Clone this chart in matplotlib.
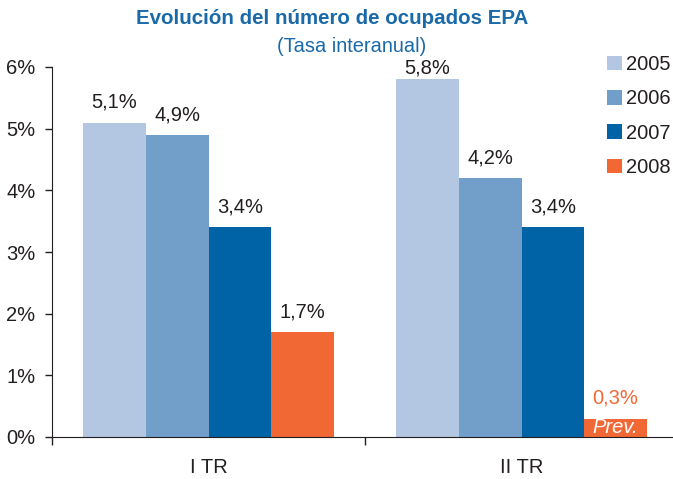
import matplotlib
matplotlib.use("Agg")
import matplotlib.pyplot as plt
import numpy as np
from matplotlib.patches import Patch

plt.rcParams['font.family'] = ['Liberation Sans', 'DejaVu Sans']

groups = ["I TR", "II TR"]
years = ["2005", "2006", "2007", "2008"]
values = {
    "2005": [5.1, 5.8],
    "2006": [4.9, 4.2],
    "2007": [3.4, 3.4],
    "2008": [1.7, 0.3],
}
labels = {
    "2005": ["5,1%", "5,8%"],
    "2006": ["4,9%", "4,2%"],
    "2007": ["3,4%", "3,4%"],
    "2008": ["1,7%", "0,3%"],
}
colors = {"2005": "#b3c6e2", "2006": "#729fca", "2007": "#0063a6", "2008": "#f26835"}
yticks = [0, 1, 2, 3, 4, 5, 6]
ytick_labels = ["0%", "1%", "2%", "3%", "4%", "5%", "6%"]

W, H = 673, 479
fig = plt.figure(figsize=(W / 100, H / 100), dpi=100)
ax = fig.add_axes([52 / W, 42 / H, 626 / W, 370 / H])

textc = "#231f20"
fs = 14.5
x = np.arange(len(groups))
width = 0.2
offsets = [-0.3, -0.1, 0.1, 0.3]
for yr, off in zip(years, offsets):
    bars = ax.bar(x + off, values[yr], width, color=colors[yr], label=yr)
    for i, b in enumerate(bars):
        c = colors["2008"] if (yr == "2008" and i == 1) else textc
        dy = 4.5 if (yr == "2005" and i == 1) else 10.5
        ax.annotate(labels[yr][i], (b.get_x() + b.get_width() / 2, b.get_height()),
                    xytext=(0, dy), textcoords="offset points", ha="center",
                    va="baseline", fontsize=fs, color=c)
    if yr == "2008":
        b = bars[1]
        ax.text(b.get_x() + b.get_width() / 2, b.get_height() / 2, "Prev.",
                ha="center", va="center", color="white", fontsize=fs,
                style="italic")

ax.set_xlim(-0.5, 1.5)
ax.set_ylim(0, 6)
ax.set_yticks(yticks)
ax.set_yticklabels(ytick_labels, fontsize=fs, color=textc)
ax.set_xticks([-0.5, 0.5, 1.5])
ax.set_xticklabels([])
ax.set_xticks(x, minor=True)
ax.set_xticklabels(groups, minor=True, fontsize=fs, color=textc)
ax.tick_params(axis="x", which="minor", length=0, pad=15)
ax.tick_params(axis="x", which="major", length=6, color="#231f20", width=1)
ax.tick_params(axis="y", length=5, color="#231f20", width=1, pad=7)
for s in ["top", "right"]:
    ax.spines[s].set_visible(False)
ax.spines["left"].set_color("#231f20")
ax.spines["bottom"].set_color("#231f20")

fig.text(332 / W, 1 - 19 / H, "Evolución del número de ocupados EPA",
         ha="center", va="center", fontsize=14.8, fontweight="bold", color="#1a6aaa")
fig.text(352 / W, 1 - 46 / H, "(Tasa interanual)", ha="center", va="center",
         fontsize=14.4, color="#1a6aaa")

handles = [Patch(facecolor=colors[y], edgecolor="none") for y in years]
fig.legend(handles, years, loc="upper left", bbox_to_anchor=(607 / W, 1 - 55 / H),
           frameon=False, fontsize=fs, handlelength=0.75, handleheight=0.75,
           handletextpad=0.2, labelspacing=0.76, borderpad=0, borderaxespad=0,
           labelcolor=textc)

fig.savefig("out.png", dpi=100)
